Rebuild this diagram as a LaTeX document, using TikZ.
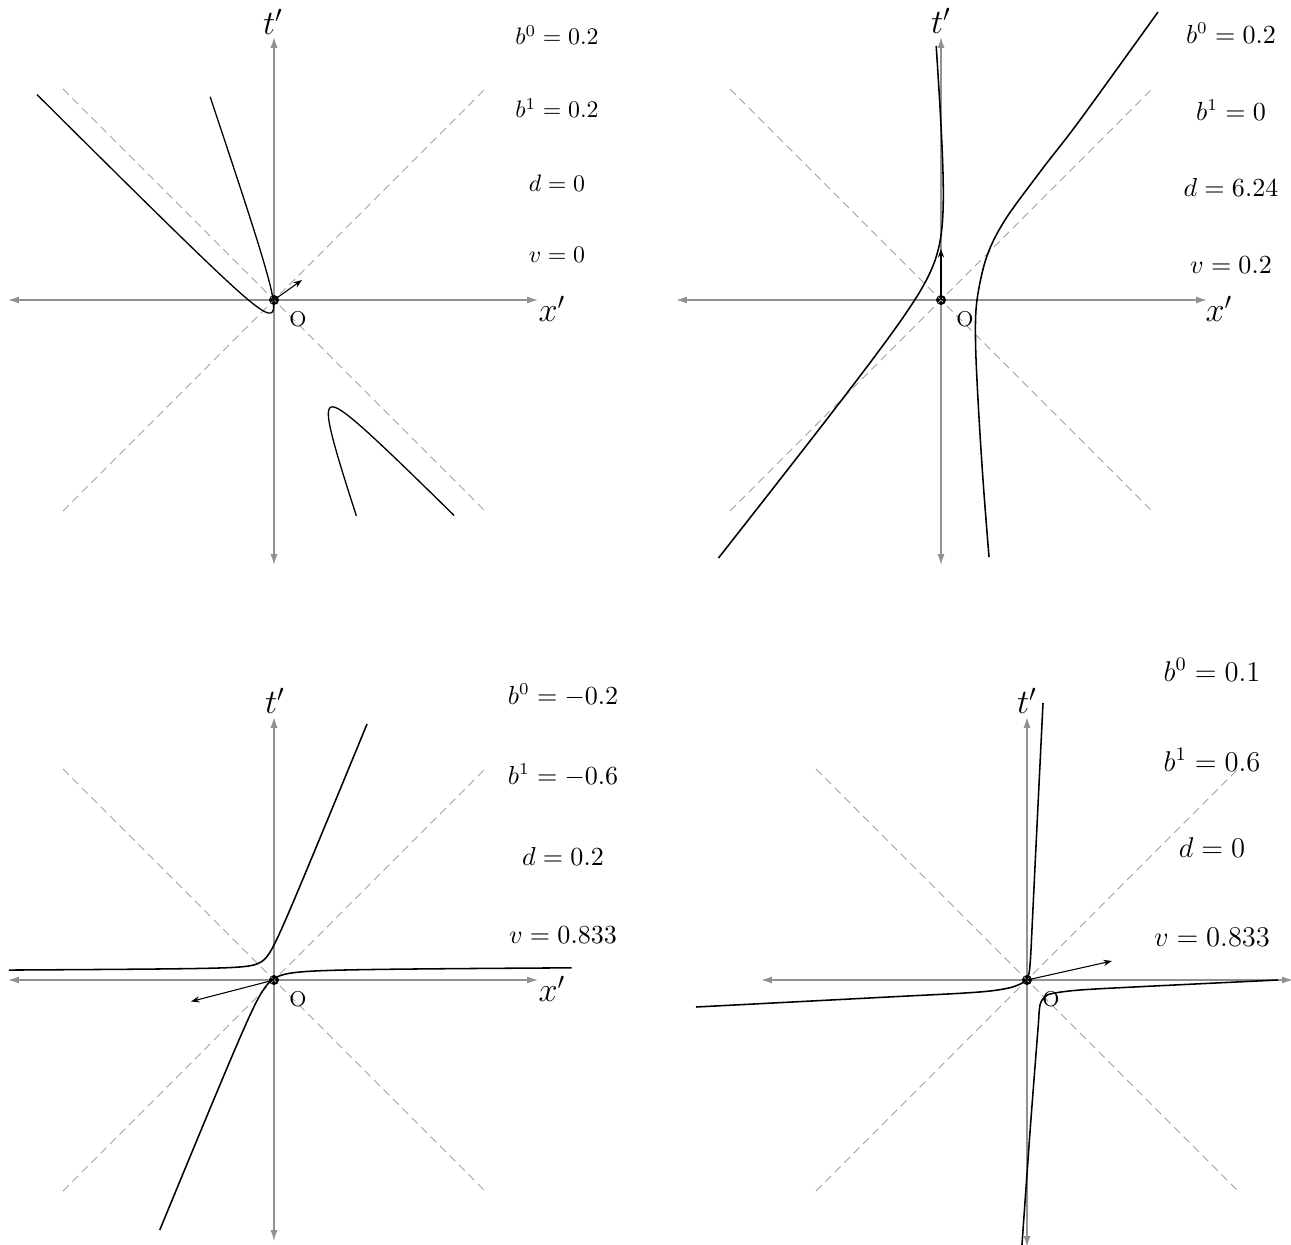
\documentclass[tikz,border=0pt]{standalone}
\usetikzlibrary{arrows.meta}
\definecolor{axisgray}{RGB}{145,145,145}
\definecolor{conegray}{RGB}{160,160,160}
\begin{document}
\begin{tikzpicture}[x=0.42pt,y=-0.42pt,
  axis/.style={draw=axisgray, line width=0.6pt, {Latex[length=4.6pt,width=3pt]}-{Latex[length=4.6pt,width=3pt]}},
  cone/.style={draw=conegray, line width=0.4pt, dash pattern=on 3.4pt off 2.2pt},
  curve/.style={draw=black, line width=0.65pt},
  vec/.style={draw=black, line width=0.45pt, -{Stealth[length=3.6pt,width=2.6pt]}},
  lab/.style={font=\Large},
  par/.style={font=\normalsize},
  parmid/.style={font=\fontsize{10.5}{12}\selectfont},
  parbig/.style={font=\large},
  orig/.style={font=\small},
  dot/.style={fill=black}]
\useasboundingbox (0,0) rectangle (1291,1245);
\clip (0,0) rectangle (1291,1245);

% ---------------- Panel 1 ----------------
\coordinate (O1) at (274,300);
\coordinate (X1l) at (8,300); \coordinate (X1r) at (538,300);
\coordinate (T1t) at (274,37); \coordinate (T1b) at (274,565);
\draw[axis] (X1l) -- (X1r);
\draw[axis] (T1b) -- (T1t);
\fill[dot] (O1) circle[radius=2.1pt];
\coordinate (C1a) at (63,89); \coordinate (C1b) at (485,511);
\coordinate (C1c) at (63,511); \coordinate (C1d) at (485,89);
\draw[cone] (C1a) -- (C1b);
\draw[cone] (C1c) -- (C1d);
\draw[curve,line width=0.55pt] plot[domain=-2.41:2.42,samples=240,variable=\s]
  ({301-23.45*exp(\s)-7.973*exp(-\s)},{360-23.45*exp(\s)-23.45*exp(-\s)});
\draw[curve,line width=0.55pt] plot[domain=-1.87:1.87,samples=200,variable=\s]
  ({301+23.45*exp(\s)+7.973*exp(-\s)},{360+23.45*exp(\s)+23.45*exp(-\s)});
\coordinate (V1) at (302,280);
\draw[vec] (O1) -- (V1);
\node[lab] (t1) at (273,22) {$t'$};
\node[lab] (x1) at (552,309) {$x'$};
\node[orig] (o1) at (298,319) {O};
\node[par] (p1a) at (557,35) {$b^0=0.2$};
\node[par] (p1b) at (557,108) {$b^1=0.2$};
\node[par] (p1c) at (557,183) {$d=0$};
\node[par] (p1d) at (557,255) {$v=0$};

% ---------------- Panel 2 ----------------
\coordinate (O2) at (941,300);
\coordinate (X2l) at (676,300); \coordinate (X2r) at (1207,300);
\coordinate (T2t) at (941,37); \coordinate (T2b) at (941,565);
\draw[axis] (X2l) -- (X2r);
\draw[axis] (T2b) -- (T2t);
\fill[dot] (O2) circle[radius=2.1pt];
\coordinate (C2a) at (730,89); \coordinate (C2b) at (1152,511);
\coordinate (C2c) at (730,511); \coordinate (C2d) at (1152,89);
\draw[cone] (C2a) -- (C2b);
\draw[cone] (C2c) -- (C2d);
\draw[curve] plot[domain=-2.572:2.26,samples=240,variable=\s]
  ({954.4-0.075*22.8*exp(\s)-0.79*22.8*exp(-\s)},{261.3-22.8*exp(\s)+22.8*exp(-\s)});
\draw[curve] plot[smooth,tension=0.55] coordinates {(1158,12) (1080,120) (1041.5,170) (1005,220) (986.7,256.7) (977,300) (975.5,340) (978,400) (983,480) (989,557)};
\coordinate (V2) at (941,249);
\draw[vec] (O2) -- (V2);
\node[lab] (t2) at (941,21) {$t'$};
\node[lab] (x2) at (1219,309) {$x'$};
\node[orig] (o2) at (965,319) {O};
\node[parmid] (p2a) at (1231,33) {$b^0=0.2$};
\node[parmid] (p2b) at (1231,110) {$b^1=0$};
\node[parmid] (p2c) at (1231,187) {$d=6.24$};
\node[parmid] (p2d) at (1231,265) {$v=0.2$};

% ---------------- Panel 3 ----------------
\coordinate (O3) at (274,980);
\coordinate (X3l) at (8,980); \coordinate (X3r) at (538,980);
\coordinate (T3t) at (274,717); \coordinate (T3b) at (274,1241);
\draw[axis] (X3l) -- (X3r);
\draw[axis] (T3b) -- (T3t);
\fill[dot] (O3) circle[radius=2.1pt];
\coordinate (C3a) at (63,769); \coordinate (C3b) at (485,1191);
\coordinate (C3c) at (63,1191); \coordinate (C3d) at (485,769);
\draw[cone] (C3a) -- (C3b);
\draw[cone] (C3c) -- (C3d);
\draw[curve] plot[domain=-3.454:3.508,samples=260,variable=\s]
  ({266.6-7.746*exp(\s)+0.411*7.746*exp(-\s)},{969+0.005*7.746*exp(\s)-7.746*exp(-\s)});
\draw[curve] plot[domain=-3.214:3.371,samples=260,variable=\s]
  ({266.6+10.49*exp(\s)-0.411*10.49*exp(-\s)},{969-0.005*10.49*exp(\s)+10.49*exp(-\s)});
\coordinate (V3) at (191,1001.5);
\draw[vec] (O3) -- (V3);
\node[lab] (t3) at (275,701) {$t'$};
\node[lab] (x3) at (552,989) {$x'$};
\node[orig] (o3) at (298,999) {O};
\node[parmid] (p3a) at (563,695) {$b^0=-0.2$};
\node[parmid] (p3b) at (563,775) {$b^1=-0.6$};
\node[parmid] (p3c) at (563,856) {$d=0.2$};
\node[parmid] (p3d) at (563,935) {$v=0.833$};

% ---------------- Panel 4 ----------------
\coordinate (O4) at (1027,980);
\coordinate (X4l) at (761,980); \coordinate (X4r) at (1293,980);
\coordinate (T4t) at (1027,717); \coordinate (T4b) at (1027,1247);
\draw[axis] (X4l) -- (X4r);
\draw[axis] (T4b) -- (T4t);
\fill[dot] (O4) circle[radius=2.1pt];
\coordinate (C4a) at (816,769); \coordinate (C4b) at (1238,1191);
\coordinate (C4c) at (816,1191); \coordinate (C4d) at (1238,769);
\draw[cone] (C4a) -- (C4b);
\draw[cone] (C4c) -- (C4d);
\draw[curve] plot[smooth,tension=0.55] coordinates {(696,1007) (800,1001.6) (900,996.4) (960,993.3) (990,991) (1010,987.7) (1021.7,983.3) (1026.7,979.3) (1029.3,971.7) (1030.7,955) (1031.7,935) (1035.8,850) (1043,703)};
\draw[curve] plot[smooth,tension=0.55] coordinates {(1021.6,1250) (1030,1132) (1036.3,1050) (1038.3,1025) (1040,1005) (1045,996.7) (1053.3,993.3) (1080,990) (1140,986.7) (1278,980)};
\coordinate (V4) at (1112,961);
\draw[vec] (O4) -- (V4);
\node[lab] (t4) at (1027,701) {$t'$};
\node[orig] (o4) at (1051,999) {O};
\node[parbig] (p4a) at (1212,670) {$b^0=0.1$};
\node[parbig] (p4b) at (1212,760) {$b^1=0.6$};
\node[parbig] (p4c) at (1212,848) {$d=0$};
\node[parbig] (p4d) at (1212,937) {$v=0.833$};
\end{tikzpicture}
\end{document}
